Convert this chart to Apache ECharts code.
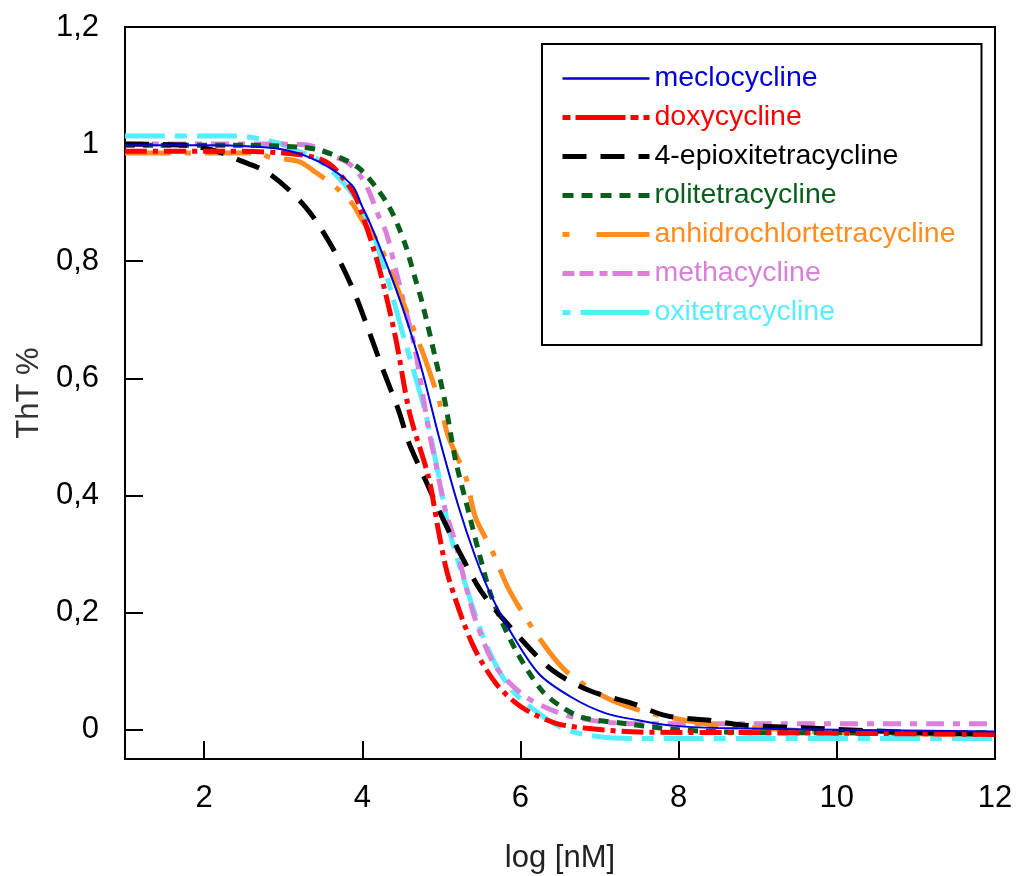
<!DOCTYPE html>
<html>
<head>
<meta charset="utf-8">
<script src="https://cdn.jsdelivr.net/npm/echarts@6/dist/echarts.min.js"></script>
<style>html,body{margin:0;padding:0;background:#fff}#c{width:1028px;height:876px}</style>
</head>
<body>
<div id="c"></div>
<script>
const seriesNames = ['meclocycline','doxycycline','4-epioxitetracycline','rolitetracycline','anhidrochlortetracycline','methacycline','oxitetracycline'];
const xTicks = [2,4,6,8,10,12];
const yTicks = [0,0.2,0.4,0.6,0.8,1,1.2];

const meclocycline = [[1,0.998],[2,0.998],[2.6,0.996],[3.03,0.99],[3.45,0.97],[3.87,0.93],[4.0,0.893],[4.12,0.858],[4.42,0.755],[4.72,0.631],[4.97,0.50],[5.22,0.38],[5.43,0.295],[5.6,0.238],[5.82,0.18],[6.23,0.096],[6.65,0.055],[7.08,0.028],[7.5,0.016],[7.92,0.007],[8.5,0.003],[10,0.0],[12,-0.003]];
const doxycycline = [[1,0.988],[2,0.988],[3,0.985],[3.54,0.97],[3.87,0.921],[4.0,0.88],[4.21,0.79],[4.42,0.67],[4.6,0.54],[4.84,0.43],[4.97,0.335],[5.09,0.26],[5.39,0.147],[5.69,0.079],[6.02,0.038],[6.45,0.011],[6.87,0.002],[7.5,-0.004],[9,-0.005],[12,-0.008]];
const epioxitetracycline = [[1,1.0],[1.8,0.998],[2.18,0.987],[2.4,0.975],[2.82,0.95],[3.28,0.893],[3.62,0.824],[3.87,0.756],[4.04,0.697],[4.25,0.619],[4.46,0.545],[4.59,0.49],[4.80,0.426],[5.01,0.363],[5.26,0.295],[5.52,0.233],[5.94,0.165],[6.40,0.102],[6.87,0.067],[7.41,0.045],[7.84,0.024],[8.39,0.016],[8.81,0.008],[9.78,0.002],[11,-0.005],[12,-0.008]];
const rolitetracycline = [[1,0.998],[2.5,0.998],[3.2,0.995],[3.45,0.99],[3.70,0.978],[3.95,0.96],[4.17,0.927],[4.34,0.893],[4.46,0.858],[4.55,0.826],[4.67,0.77],[4.76,0.728],[4.93,0.631],[5.05,0.557],[5.18,0.46],[5.35,0.369],[5.48,0.30],[5.64,0.225],[5.94,0.136],[6.27,0.067],[6.53,0.038],[6.78,0.021],[7.29,0.011],[8,0.0],[9,-0.005],[12,-0.005]];
const anhidrochlortetracycline = [[1,0.985],[2.7,0.985],[2.82,0.978],[3.2,0.97],[3.41,0.952],[3.66,0.927],[3.87,0.899],[4.0,0.87],[4.21,0.83],[4.42,0.762],[4.67,0.677],[4.80,0.631],[4.97,0.562],[5.09,0.50],[5.31,0.431],[5.43,0.363],[5.64,0.306],[5.86,0.238],[6.23,0.158],[6.57,0.101],[7.08,0.055],[7.59,0.03],[8.09,0.016],[8.51,0.007],[9.27,0.001],[10,-0.005],[12,-0.008]];
const methacycline = [[1,1.0],[3.0,1.0],[3.36,0.997],[3.66,0.978],[3.83,0.967],[3.99,0.943],[4.08,0.921],[4.21,0.876],[4.30,0.85],[4.42,0.787],[4.55,0.716],[4.67,0.648],[4.84,0.512],[4.93,0.454],[5.05,0.375],[5.18,0.318],[5.31,0.245],[5.45,0.18],[5.69,0.107],[6.07,0.056],[6.57,0.025],[7.08,0.013],[7.5,0.01],[12,0.01]];
const oxitetracycline = [[1,1.014],[2.4,1.014],[2.94,1.002],[3.15,0.99],[3.45,0.973],[3.87,0.916],[4.12,0.853],[4.30,0.779],[4.50,0.682],[4.80,0.54],[4.97,0.431],[5.09,0.346],[5.26,0.267],[5.56,0.148],[5.86,0.073],[6.23,0.028],[6.58,0.0],[7.0,-0.012],[7.5,-0.015],[12,-0.015]];

const seriesData = [meclocycline, doxycycline, epioxitetracycline, rolitetracycline, anhidrochlortetracycline, methacycline, oxitetracycline];
const colors = ['#0000d8','#ff0000','#000000','#0a5e1c','#ff8c1e','#da80da','#55eeff'];
const widths = [2,5,5,5,5,5,5];
const dashes = ['solid',[22,6,5,6],[24,14],[10,8],[46,14,6,14],[18,9,7,9],[40,10,12,10]];
const legendDashes = ['solid',[8,5,50,5],[24,14],[11,8],[7,27,50,0],[12,5,14,6,8,5,20,5],[8,10,70,0]];

const chart = echarts.init(document.getElementById('c'), null, {renderer:'canvas'});
const fontFam = '"Liberation Sans", Arial, sans-serif';
chart.setOption({
  animation:false,
  backgroundColor:'#fff',
  grid:{left:125,right:33,top:27,bottom:117,show:true,borderColor:'#000',borderWidth:2,outerBoundsMode:'none',containLabel:false},
  legend:{
    orient:'vertical', left:542, top:44,
    padding:[20,26,18,18], itemGap:10, itemWidth:87, itemHeight:16,
    borderColor:'#000', borderWidth:2, backgroundColor:'#fff',
    itemStyle:{opacity:0},
    textStyle:{fontSize:28.5,fontFamily:fontFam},
    data: seriesNames.map((n,i)=>({name:n,textStyle:{color:colors[i]},
      lineStyle:{width:widths[i]===2?2.5:5,type:legendDashes[i],color:colors[i]},
      itemStyle:{opacity:0}}))
  },
  xAxis:{
    type:'value', min:1, max:12,
    name:'log [nM]', nameLocation:'middle', nameGap:84,
    nameTextStyle:{fontSize:31,color:'#222',fontFamily:fontFam},
    axisLine:{onZero:false,lineStyle:{color:'#000',width:2}},
    axisTick:{inside:true,length:18,lineStyle:{color:'#000',width:2},customValues:xTicks},
    axisLabel:{color:'#000',fontSize:31,margin:24,fontFamily:fontFam,customValues:xTicks},
    splitLine:{show:false}
  },
  yAxis:{
    type:'value', min:-0.05, max:1.2,
    name:'ThT %', nameLocation:'middle', nameGap:80, nameRotate:90,
    nameTextStyle:{fontSize:31,color:'#333',fontFamily:fontFam},
    axisLine:{lineStyle:{color:'#000',width:2}},
    axisTick:{inside:true,length:18,lineStyle:{color:'#000',width:2},customValues:yTicks},
    axisLabel:{color:'#000',fontSize:31,margin:26,fontFamily:fontFam,customValues:yTicks,
      formatter:v=>String(Math.round(v*10)/10).replace('.',',')},
    splitLine:{show:false}
  },
  series: seriesNames.map((n,i)=>({
    name:n, type:'line', data:seriesData[i], smooth:0.3, symbol:'none',
    z: 10-i,
    lineStyle:{color:colors[i],width:widths[i],type:dashes[i],cap:'butt'},
    itemStyle:{color:colors[i]}
  }))
});
</script>
</body>
</html>
